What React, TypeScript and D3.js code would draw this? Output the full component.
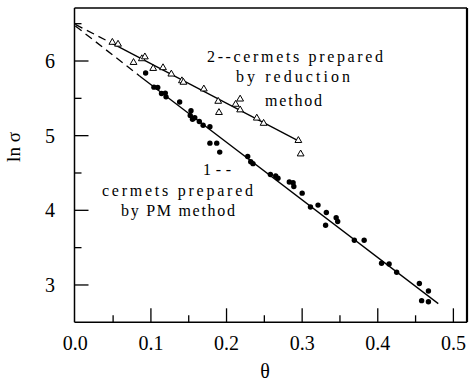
import React from "react";
import * as d3 from "d3";

// Series 1: cermets prepared by PM method (filled dots)
const pmTheta = [0.093, 0.104, 0.109, 0.114, 0.119, 0.120, 0.138, 0.153, 0.152, 0.155, 0.158, 0.164, 0.169, 0.178, 0.178, 0.187, 0.191, 0.228, 0.232, 0.235, 0.258, 0.265, 0.268, 0.283, 0.288, 0.289, 0.300, 0.311, 0.321, 0.332, 0.331, 0.345, 0.347, 0.369, 0.382, 0.405, 0.415, 0.425, 0.455, 0.467, 0.458, 0.467];
const pmLnSigma = [5.84, 5.65, 5.645, 5.565, 5.57, 5.52, 5.45, 5.335, 5.27, 5.22, 5.24, 5.19, 5.14, 5.12, 4.90, 4.90, 4.78, 4.72, 4.65, 4.625, 4.48, 4.46, 4.43, 4.38, 4.37, 4.32, 4.23, 4.045, 4.07, 3.97, 3.80, 3.90, 3.85, 3.60, 3.60, 3.29, 3.28, 3.17, 3.02, 2.92, 2.79, 2.775];

// Series 2: cermets prepared by reduction method (open triangles)
const redTheta = [0.049, 0.0565, 0.077, 0.088, 0.092, 0.103, 0.116, 0.127, 0.141, 0.143, 0.170, 0.189, 0.190, 0.212, 0.218, 0.218, 0.240, 0.249, 0.295, 0.298];
const redLnSigma = [6.25, 6.225, 5.98, 6.03, 6.055, 5.90, 5.91, 5.825, 5.735, 5.715, 5.625, 5.46, 5.31, 5.42, 5.49, 5.345, 5.235, 5.165, 4.935, 4.755];

// Fitted lines: [theta, ln sigma]; first segment dashed, second solid
const fit1 = [[0, 6.47], [0.085, 5.80], [0.48, 2.75]];
const fit2 = [[0, 6.49], [0.048, 6.24], [0.297, 4.92]];

const xTicksMajor = [0, 0.1, 0.2, 0.3, 0.4, 0.5];
const xTicksMinor = [0.05, 0.15, 0.25, 0.35, 0.45];
const yTicksMajor = [3, 4, 5, 6];
const yTicksMinor = [3.5, 4.5, 5.5, 6.5];

const W = 471, H = 383;
const L = 74.5, R = 467, T = 8, B = 322.3;

const serif = "Liberation Serif";

export default function App() {
  const x = d3.scaleLinear().domain([0, 0.518]).range([75.3, R]);
  const y = d3.scaleLinear().domain([2.5, 6.71]).range([B, T]);
  const line = d3.line<number[]>().x((d) => x(d[0])).y((d) => y(d[1]));
  const tri = d3.symbol().type(d3.symbolTriangle).size(20)();
  const ts = { fontFamily: serif, fontSize: "20px" };
  const as = { fontFamily: serif, fontSize: "16px" };

  return (
    <svg width={W} height={H} fontFamily={serif} style={{ position: "absolute", left: 0, top: 0, background: "#fff" }}>
      <rect x={0} y={0} width={W} height={H} fill="#fff" />
      {/* frame */}
      <line x1={L} y1={T} x2={R} y2={T} stroke="#000" strokeWidth={1.5} />
      <line x1={L} y1={T} x2={L} y2={B} stroke="#000" strokeWidth={1.5} />
      <line x1={L} y1={B} x2={R} y2={B} stroke="#000" strokeWidth={1.6} />
      <line x1={R} y1={T} x2={R} y2={B} stroke="#000" strokeWidth={2.2} />

      {/* x ticks */}
      {xTicksMajor.map((t) => (
        <g key={"xm" + t}>
          {t > 0 && <line x1={x(t)} x2={x(t)} y1={B} y2={B - 14} stroke="#000" strokeWidth={1.3} />}
          <text x={x(t)} y={350} textAnchor="middle" style={ts}>{t.toFixed(1)}</text>
        </g>
      ))}
      {xTicksMinor.map((t) => (
        <line key={"xn" + t} x1={x(t)} x2={x(t)} y1={B} y2={B - 7} stroke="#000" strokeWidth={1.3} />
      ))}
      {/* y ticks */}
      {yTicksMajor.map((t) => (
        <g key={"ym" + t}>
          <line x1={L} x2={L + 14} y1={y(t)} y2={y(t)} stroke="#000" strokeWidth={1.3} />
          <text x={55} y={y(t) + 7} textAnchor="end" style={ts}>{t}</text>
        </g>
      ))}
      {yTicksMinor.map((t) => (
        <line key={"yn" + t} x1={L} x2={L + 7} y1={y(t)} y2={y(t)} stroke="#000" strokeWidth={1.3} />
      ))}

      {/* axis titles */}
      <text x={265} y={378} textAnchor="middle" style={ts}>θ</text>
      <text transform={`translate(20,147) rotate(-90)`} textAnchor="middle" style={{ fontFamily: serif, fontSize: "19px" }}>ln σ</text>

      {/* fit lines */}
      <path d={line(fit1.slice(0, 2)) || ""} fill="none" stroke="#000" strokeWidth={1.3} strokeDasharray="8,5" />
      <path d={line(fit1.slice(1)) || ""} fill="none" stroke="#000" strokeWidth={1.3} />
      <path d={line(fit2.slice(0, 2)) || ""} fill="none" stroke="#000" strokeWidth={1.3} strokeDasharray="8,5" />
      <path d={line(fit2.slice(1)) || ""} fill="none" stroke="#000" strokeWidth={1.3} />

      {/* points */}
      {pmTheta.map((t, i) => (
        <circle key={"p" + i} cx={x(t)} cy={y(pmLnSigma[i])} r={2.7} fill="#000" />
      ))}
      {redTheta.map((t, i) => (
        <path key={"r" + i} d={tri || ""} transform={`translate(${x(t)},${y(redLnSigma[i])})`} fill="#fff" stroke="#000" strokeWidth={1} />
      ))}

      {/* annotations */}
      <g style={as} fill="#000">
        <text x={207} y={62} textLength={176} lengthAdjust="spacing">2--cermets prepared</text>
        <text x={236} y={82} textLength={114} lengthAdjust="spacing">by reduction</text>
        <text x={265} y={106} textLength={57} lengthAdjust="spacing">method</text>
        <text x={203} y={175} textLength={28} lengthAdjust="spacing">1--</text>
        <text x={102} y={196} textLength={151} lengthAdjust="spacing">cermets prepared</text>
        <text x={121} y={216} textLength={114} lengthAdjust="spacing">by PM method</text>
      </g>
    </svg>
  );
}
